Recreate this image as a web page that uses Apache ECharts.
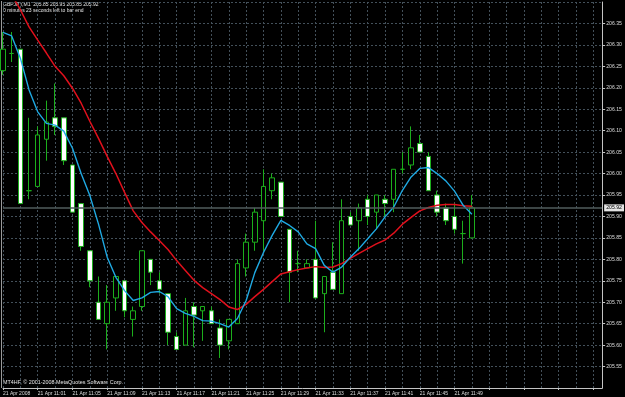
<!DOCTYPE html>
<html><head><meta charset="utf-8">
<script src="https://cdn.jsdelivr.net/npm/echarts@6/dist/echarts.min.js"></script>
<style>html,body{margin:0;padding:0;background:#000;}#c{width:625px;height:397px;}</style>
</head><body><div id="c"></div>
<script>
const symbolName = 'GBPJPY,M1';
const categories = ['10:57','10:58','10:59','11:00','11:01','11:02','11:03','11:04','11:05','11:06','11:07','11:08','11:09','11:10','11:11','11:12','11:13','11:14','11:15','11:16','11:17','11:18','11:19','11:20','11:21','11:22','11:23','11:24','11:25','11:26','11:27','11:28','11:29','11:30','11:31','11:32','11:33','11:34','11:35','11:36','11:37','11:38','11:39','11:40','11:41','11:42','11:43','11:44','11:45','11:46','11:47','11:48','11:49','11:50','11:51'];
const futureSlots = 15;
const tickLabels = ['21 Apr 2008','21 Apr 11:01','21 Apr 11:05','21 Apr 11:09','21 Apr 11:13','21 Apr 11:17','21 Apr 11:21','21 Apr 11:25','21 Apr 11:29','21 Apr 11:33','21 Apr 11:37','21 Apr 11:41','21 Apr 11:45','21 Apr 11:49'];
const opens  = [206.24,206.28,206.29,205.96,205.97,206.08,206.13,206.13,206.02,205.93,205.82,205.70,205.65,205.71,205.75,205.66,205.69,205.80,205.75,205.72,205.62,205.60,205.69,205.68,205.68,205.64,205.61,205.65,205.78,205.84,205.89,205.96,205.98,205.87,205.79,205.78,205.80,205.72,205.77,205.72,205.90,205.89,205.94,205.91,205.94,205.94,206.01,206.02,206.07,206.04,205.95,205.92,205.90,205.86,205.85];
const closes = [206.29,206.28,205.93,205.96,206.09,206.12,206.11,206.03,205.91,205.83,205.75,205.66,205.70,205.76,205.68,205.68,205.82,205.77,205.73,205.63,205.59,205.68,205.67,205.69,205.65,205.60,205.66,205.79,205.84,205.91,205.97,205.99,205.90,205.77,205.79,205.79,205.71,205.76,205.73,205.89,205.88,205.92,205.90,205.95,205.93,206.01,206.01,206.06,206.05,205.96,205.91,205.89,205.87,205.86,205.92];
const lows   = [206.23,206.26,205.93,205.94,205.97,206.03,206.09,206.02,205.91,205.82,205.735,205.66,205.59,205.68,205.665,205.62,205.68,205.74,205.72,205.60,205.59,205.60,205.595,205.61,205.65,205.57,205.59,205.65,205.76,205.82,205.82,205.94,205.90,205.70,205.77,205.78,205.71,205.63,205.73,205.72,205.88,205.82,205.88,205.87,205.90,205.91,206.00,206.01,206.05,205.96,205.90,205.88,205.86,205.79,205.85];
const highs  = [206.33,206.33,206.29,206.13,206.11,206.17,206.21,206.13,206.02,205.93,205.82,205.76,205.74,205.76,205.75,205.69,205.82,205.80,205.77,205.72,205.63,205.71,205.70,205.69,205.69,205.66,205.66,205.80,205.86,205.92,206.01,206.00,205.98,205.87,205.82,205.80,205.89,205.76,205.84,205.94,205.91,205.93,205.95,205.95,205.95,206.01,206.05,206.11,206.09,206.05,205.96,205.93,205.93,205.89,205.95];
const fastMA = [206.329,206.321,206.269,206.195,206.144,206.117,206.113,206.099,206.059,206.000,205.949,205.882,205.805,205.758,205.727,205.704,205.710,205.723,205.725,205.713,205.685,205.674,205.667,205.657,205.656,205.650,205.642,205.662,205.704,205.769,205.816,205.856,205.891,205.879,205.864,205.836,205.825,205.786,205.770,205.782,205.805,205.825,205.848,205.871,205.899,205.922,205.961,205.992,206.012,206.014,206.000,205.983,205.959,205.926,205.905];
const slowMA = [206.452,206.417,206.382,206.342,206.311,206.281,206.250,206.228,206.199,206.164,206.122,206.082,206.040,206.000,205.956,205.913,205.886,205.864,205.844,205.823,205.797,205.774,205.751,205.734,205.720,205.706,205.689,205.683,205.695,205.713,205.730,205.748,205.766,205.771,205.776,205.780,205.783,205.781,205.782,205.790,205.802,205.814,205.825,205.836,205.845,205.861,205.882,205.898,205.913,205.921,205.926,205.928,205.928,205.925,205.924];
const bidPrice = 205.92;
const timerText = '0 minutes 23 seconds left to bar end';
const copyrightText = 'MT4HF, \u00a9 2001-2008 MetaQuotes Software Corp.';

const allCats = categories.slice();
for (let i = 0; i < futureSlots; i++) allCats.push('f' + i);
const candleData = opens.map((o, i) => [o, closes[i], lows[i], highs[i]]);
const last = opens.length - 1;
const headerText = symbolName + '  ' + [opens[last], highs[last], lows[last], closes[last]].map(v => v.toFixed(2)).join(' ');

const gridColor = '#43505a';
const axisColor = '#c4c4c4';
const green = '#1cae1c';
const font = 'Liberation Sans';

const chart = echarts.init(document.getElementById('c'), null, {renderer: 'canvas'});
chart.setOption({
  backgroundColor: '#000',
  animation: false,
  grid: {left: 2, right: 21, top: 2, bottom: 9, containLabel: false},
  xAxis: {
    type: 'category', data: allCats, boundaryGap: false,
    axisLine: {show: true, lineStyle: {color: axisColor, width: 1}},
    axisTick: {show: true, interval: 3, length: 2, lineStyle: {color: axisColor}},
    axisLabel: {
      interval: 3, align: 'left', margin: 3, color: '#dcdcdc', fontSize: 5, fontFamily: font,
      formatter: (v, idx) => (idx % 4 === 0 && idx / 4 < tickLabels.length) ? tickLabels[idx / 4] : ''
    },
    splitLine: {show: true, interval: 1, lineStyle: {color: gridColor, type: [2, 2], width: 1}}
  },
  yAxis: {
    type: 'value', position: 'right', min: 205.5, max: 206.4, interval: 0.05, scale: true,
    axisLine: {show: true, lineStyle: {color: axisColor, width: 1}},
    axisTick: {show: true, length: 3, lineStyle: {color: axisColor}},
    axisLabel: {show: true, showMinLabel: false, showMaxLabel: false, margin: 4, color: '#dcdcdc', fontSize: 5.2, fontFamily: font,
      formatter: v => v.toFixed(2)},
    splitLine: {show: true, lineStyle: {color: gridColor, type: [2, 2], width: 1}}
  },
  series: [
    {
      type: 'candlestick', data: candleData, barWidth: 5, silent: true,
      itemStyle: {color: '#000', color0: '#fff', borderColor: green, borderColor0: green, borderWidth: 1},
      markLine: {
        silent: true, symbol: ['none', 'none'], animation: false,
        lineStyle: {color: '#505c5c', width: 1.5, type: 'solid'},
        label: {show: true, position: 'end', distance: 2, formatter: bidPrice.toFixed(2),
          backgroundColor: '#e4e4e4', color: '#000', fontSize: 5.2, fontFamily: font, padding: [1, 2]},
        data: [{yAxis: bidPrice}]
      },
      z: 2
    },
    {type: 'line', data: slowMA, showSymbol: false, symbol: 'none', silent: true,
      lineStyle: {color: '#e0101c', width: 1.5}, z: 3},
    {type: 'line', data: fastMA, showSymbol: false, symbol: 'none', silent: true,
      lineStyle: {color: '#1fa9e2', width: 1.4}, z: 4}
  ],
  graphic: [
    {type: 'line', shape: {x1: 1.5, y1: 1, x2: 1.5, y2: 388}, style: {stroke: '#9a9a9a', lineWidth: 1}, silent: true},
    {type: 'text', x: 3, y: 5, style: {text: headerText, fill: '#e6e6e6', font: '5px "Liberation Sans"', textVerticalAlign: 'middle'}, silent: true},
    {type: 'text', x: 3, y: 11, style: {text: timerText, fill: '#e6e6e6', font: '5px "Liberation Sans"', textVerticalAlign: 'middle'}, silent: true},
    {type: 'text', x: 3, y: 383, style: {text: copyrightText, fill: '#e6e6e6', font: '5.4px "Liberation Sans"', textVerticalAlign: 'middle'}, silent: true}
  ]
});
</script></body></html>
